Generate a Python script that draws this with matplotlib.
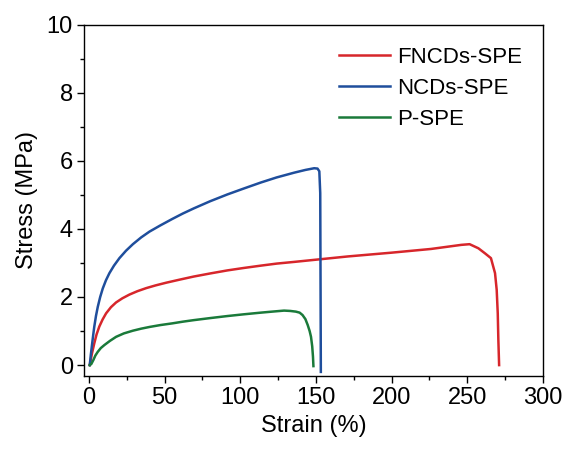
import matplotlib
matplotlib.use("Agg")
import matplotlib.pyplot as plt
from matplotlib.ticker import MultipleLocator

plt.rcParams['font.family'] = ['Liberation Sans', 'DejaVu Sans']

# Stress-strain curves (strain in %, stress in MPa)
fncds_strain = [0.5, 2.0, 3.5, 5.0, 6.8, 9.0, 11.3, 14.5, 17.9, 22.0, 26.7, 32.0, 37.8, 44.0,
                51.1, 60.0, 69.2, 80.0, 91.4, 102.0, 113.5, 124.0, 135.6, 153.3, 171, 199.7,
                226, 246, 251.5, 257.3, 261.7, 265.6, 268.3, 269.4, 270.1, 270.5, 271]
fncds_stress = [0, 0.35, 0.64, 0.90, 1.13, 1.34, 1.52, 1.70, 1.84, 1.96, 2.07, 2.17, 2.26, 2.34,
                2.42, 2.51, 2.60, 2.69, 2.78, 2.85, 2.92, 2.98, 3.03, 3.11, 3.19, 3.30,
                3.41, 3.53, 3.55, 3.43, 3.28, 3.14, 2.70, 2.21, 1.52, 0.74, 0]

ncds_strain = [0.5, 1.2, 2.0, 2.8, 3.5, 4.6, 5.8, 7.4, 9.1, 11.2, 13.5, 16.5, 20.1, 24.5,
               29.0, 34.5, 40.0, 47.1, 55.0, 62.0, 69.2, 80.0, 91.4, 102.0, 113.5, 124.0,
               135.6, 143.0, 148.8, 151.0, 152.2, 152.8, 153.0, 153.2]
ncds_stress = [0, 0.30, 0.60, 0.89, 1.13, 1.44, 1.71, 2.00, 2.25, 2.49, 2.70, 2.92, 3.14, 3.36,
               3.55, 3.75, 3.92, 4.10, 4.29, 4.45, 4.60, 4.81, 5.01, 5.18, 5.36, 5.51,
               5.65, 5.73, 5.78, 5.77, 5.69, 5.05, 2.5, -0.2]

pspe_strain = [0.5, 1.5, 2.9, 4.2, 5.8, 7.8, 10.2, 13.8, 17.9, 23.0, 29.0, 34.5, 40.0, 47.1,
               55.0, 62.0, 69.2, 80.0, 91.4, 102.0, 113.5, 121.0, 128.9, 133.0, 136.7, 139.2,
               141.1, 143.0, 144.5, 145.8, 146.7, 147.5, 148.0, 148.3]
pspe_stress = [0, 0.03, 0.15, 0.28, 0.39, 0.50, 0.59, 0.71, 0.83, 0.93, 1.01, 1.07, 1.12, 1.175,
               1.225, 1.275, 1.32, 1.38, 1.44, 1.49, 1.54, 1.57, 1.60, 1.59, 1.57, 1.54,
               1.47, 1.35, 1.18, 1.00, 0.83, 0.55, 0.25, -0.03]

labels = ["FNCDs-SPE", "NCDs-SPE", "P-SPE"]
colors = ["#D7262B", "#1F4E9C", "#1A7A3A"]

fig = plt.figure(figsize=(5.64, 4.55), dpi=100)
ax = fig.add_axes([84 / 564, 1 - 376 / 455, (543 - 84) / 564, (376 - 24.5) / 455])

for xs, ys, lab, c in zip([fncds_strain, ncds_strain, pspe_strain],
                          [fncds_stress, ncds_stress, pspe_stress], labels, colors):
    ax.plot(xs, ys, color=c, lw=1.8, label=lab, solid_joinstyle='round')

ax.set_xlim(-3.3, 300)
ax.set_ylim(-0.32, 10)
ax.xaxis.set_major_locator(MultipleLocator(50))
ax.xaxis.set_minor_locator(MultipleLocator(25))
ax.yaxis.set_major_locator(MultipleLocator(2))
ax.yaxis.set_minor_locator(MultipleLocator(1))
ax.tick_params(which='major', direction='out', length=5, width=1, labelsize=17, pad=3,
               top=False, right=False)
ax.tick_params(which='minor', direction='out', length=3, width=1, top=False, right=False)
for s in ax.spines.values():
    s.set_linewidth(1.0)

ax.set_xlabel("Strain (%)", fontsize=17, labelpad=4)
ax.set_ylabel("Stress (MPa)", fontsize=17, labelpad=6)

ax.legend(loc='upper left', bbox_to_anchor=(0.556, 0.936), frameon=False, fontsize=16,
          handlelength=2.3, handletextpad=0.32, labelspacing=0.45, borderpad=0,
          borderaxespad=0)

fig.savefig("out.png", dpi=100)
